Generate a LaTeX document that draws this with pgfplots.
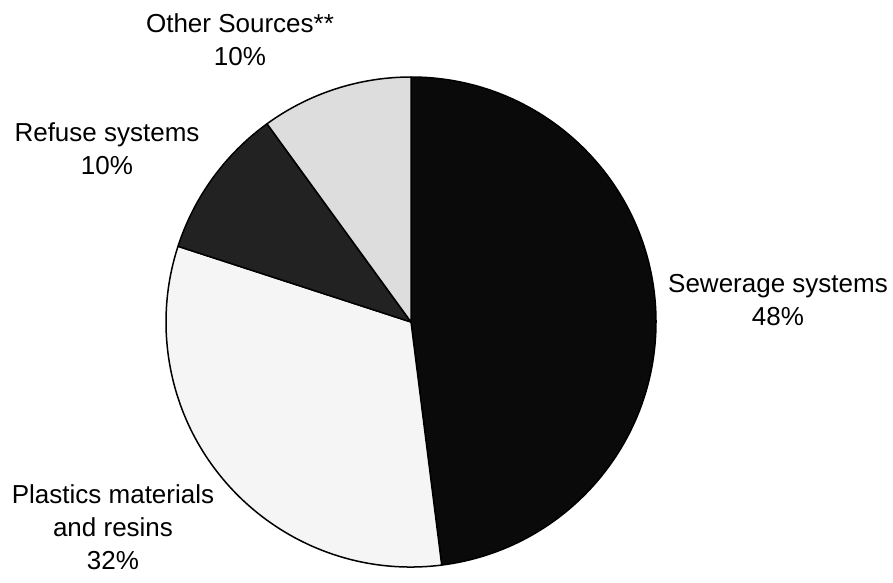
\documentclass[border=0pt]{standalone}
\usepackage{pgfplots}
\pgfplotsset{compat=1.18}
\usepackage{fontspec}
\setmainfont{Liberation Sans}
\definecolor{cSew}{HTML}{0A0A0A}
\definecolor{cPla}{HTML}{F5F5F5}
\definecolor{cRef}{HTML}{222222}
\definecolor{cOth}{HTML}{DDDDDD}
% shares in percent: Sewerage, Plastics, Refuse, Other
\def\vSew{48}\def\vPla{32}\def\vRef{10}\def\vOth{10}
\begin{document}
\begin{tikzpicture}
\begin{axis}[scale only axis, width=893pt, height=573pt,
  xmin=0, xmax=893, ymin=0, ymax=573, y dir=reverse,
  hide axis, clip=false]
\path (axis cs:0,0) rectangle (axis cs:893,573);
\pgfmathsetmacro{\aA}{90}
\pgfmathsetmacro{\aB}{\aA-3.6*\vSew}
\pgfmathsetmacro{\aC}{\aB-3.6*\vPla}
\pgfmathsetmacro{\aD}{\aC-3.6*\vRef}
\pgfmathsetmacro{\aE}{\aD-3.6*\vOth}
\filldraw[fill=cSew, draw=black, line width=1.5pt, line join=round] (axis cs:411,322) -- ++(\aA:245pt) arc[start angle=\aA, end angle=\aB, radius=245pt] -- cycle;
\filldraw[fill=cPla, draw=black, line width=1.5pt, line join=round] (axis cs:411,322) -- ++(\aB:245pt) arc[start angle=\aB, end angle=\aC, radius=245pt] -- cycle;
\filldraw[fill=cRef, draw=black, line width=1.5pt, line join=round] (axis cs:411,322) -- ++(\aC:245pt) arc[start angle=\aC, end angle=\aD, radius=245pt] -- cycle;
\filldraw[fill=cOth, draw=black, line width=1.5pt, line join=round] (axis cs:411,322) -- ++(\aD:245pt) arc[start angle=\aD, end angle=\aE, radius=245pt] -- cycle;
\tikzset{lbl/.style={anchor=base, inner sep=0pt, font=\fontsize{26}{33}\selectfont}}
\node[lbl] at (axis cs:240,32) {Other Sources**};
\node[lbl] at (axis cs:240,65) {10\%};
\node[lbl] at (axis cs:107,141) {Refuse systems};
\node[lbl] at (axis cs:107,174) {10\%};
\node[lbl] at (axis cs:778,292) {Sewerage systems};
\node[lbl] at (axis cs:778,325) {48\%};
\node[lbl] at (axis cs:113,503) {Plastics materials};
\node[lbl] at (axis cs:113,536) {and resins};
\node[lbl] at (axis cs:113,569) {32\%};
\end{axis}
\end{tikzpicture}
\end{document}
